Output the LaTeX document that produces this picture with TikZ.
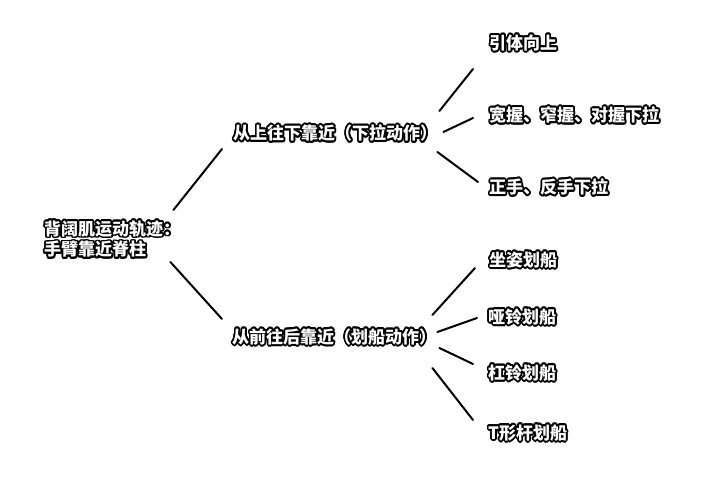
\documentclass[tikz,border=0pt]{standalone}
\usepackage{fontspec}
\newfontfamily\cjk{Noto Sans CJK SC}
% white letters with a black outline
\newcommand\halo[1]{%
  \leavevmode\hbox{%
    \foreach \ang in {0,20,...,340}{%
      \pgfmathsetlengthmacro\hx{1.7pt*cos(\ang)}%
      \pgfmathsetlengthmacro\hy{1.7pt*sin(\ang)}%
      \rlap{\kern\hx\raise\hy\hbox{\color{black}#1}}%
    }%
    \color{white}#1}}

\begin{document}
\begin{tikzpicture}[x=1pt, y=-1pt,
    txt/.style={inner sep=0pt, anchor=west, align=left, font=\cjk\bfseries\fontsize{17}{19}\selectfont},
    link/.style={line width=2pt, line cap=round},
  ]
    \useasboundingbox (0,0) rectangle (720,481);

    \node[txt] (root) at (44,239) {\halo{背阔肌运动轨迹：}\\\halo{手臂靠近脊柱}};

    \node[txt] (pull) at (233,133) {\halo{从上往下靠近（下拉动作）}};
    \node[txt] (row) at (232,337) {\halo{从前往后靠近（划船动作）}};

    \node[txt] (chin) at (489,43) {\halo{引体向上}};
    \node[txt] (grip) at (489,115) {\halo{宽握、窄握、对握下拉}};
    \node[txt] (hand) at (489,187) {\halo{正手、反手下拉}};

    \node[txt] (seat) at (489,260) {\halo{坐姿划船}};
    \node[txt] (dumb) at (488,317) {\halo{哑铃划船}};
    \node[txt] (bar) at (488,373) {\halo{杠铃划船}};
    \node[txt] (tbar) at (488,433) {\halo{T形杆划船}};

    \draw[link] ([shift={(-7,-29)}]root.east) -- ([shift={(-11,16)}]pull.west);
    \draw[link] ([shift={(-10,23)}]root.east) -- ([shift={(-10,-18)}]row.west);

    \draw[link] ([shift={(2,-22)}]pull.east) -- ([shift={(-16,26)}]chin.west);
    \draw[link] ([shift={(6,-1)}]pull.east) -- ([shift={(-16,3)}]grip.west);
    \draw[link] ([shift={(0,19)}]pull.east) -- ([shift={(-11,-5)}]hand.west);

    \draw[link] ([shift={(-4,-22)}]row.east) -- ([shift={(-14,8)}]seat.west);
    \draw[link] ([shift={(1,-5)}]row.east) -- ([shift={(-11,1)}]dumb.west);
    \draw[link] ([shift={(3,11)}]row.east) -- ([shift={(-15,-9)}]bar.west);
    \draw[link] ([shift={(-4,31)}]row.east) -- ([shift={(-15,-13)}]tbar.west);
  \end{tikzpicture}
\end{document}
